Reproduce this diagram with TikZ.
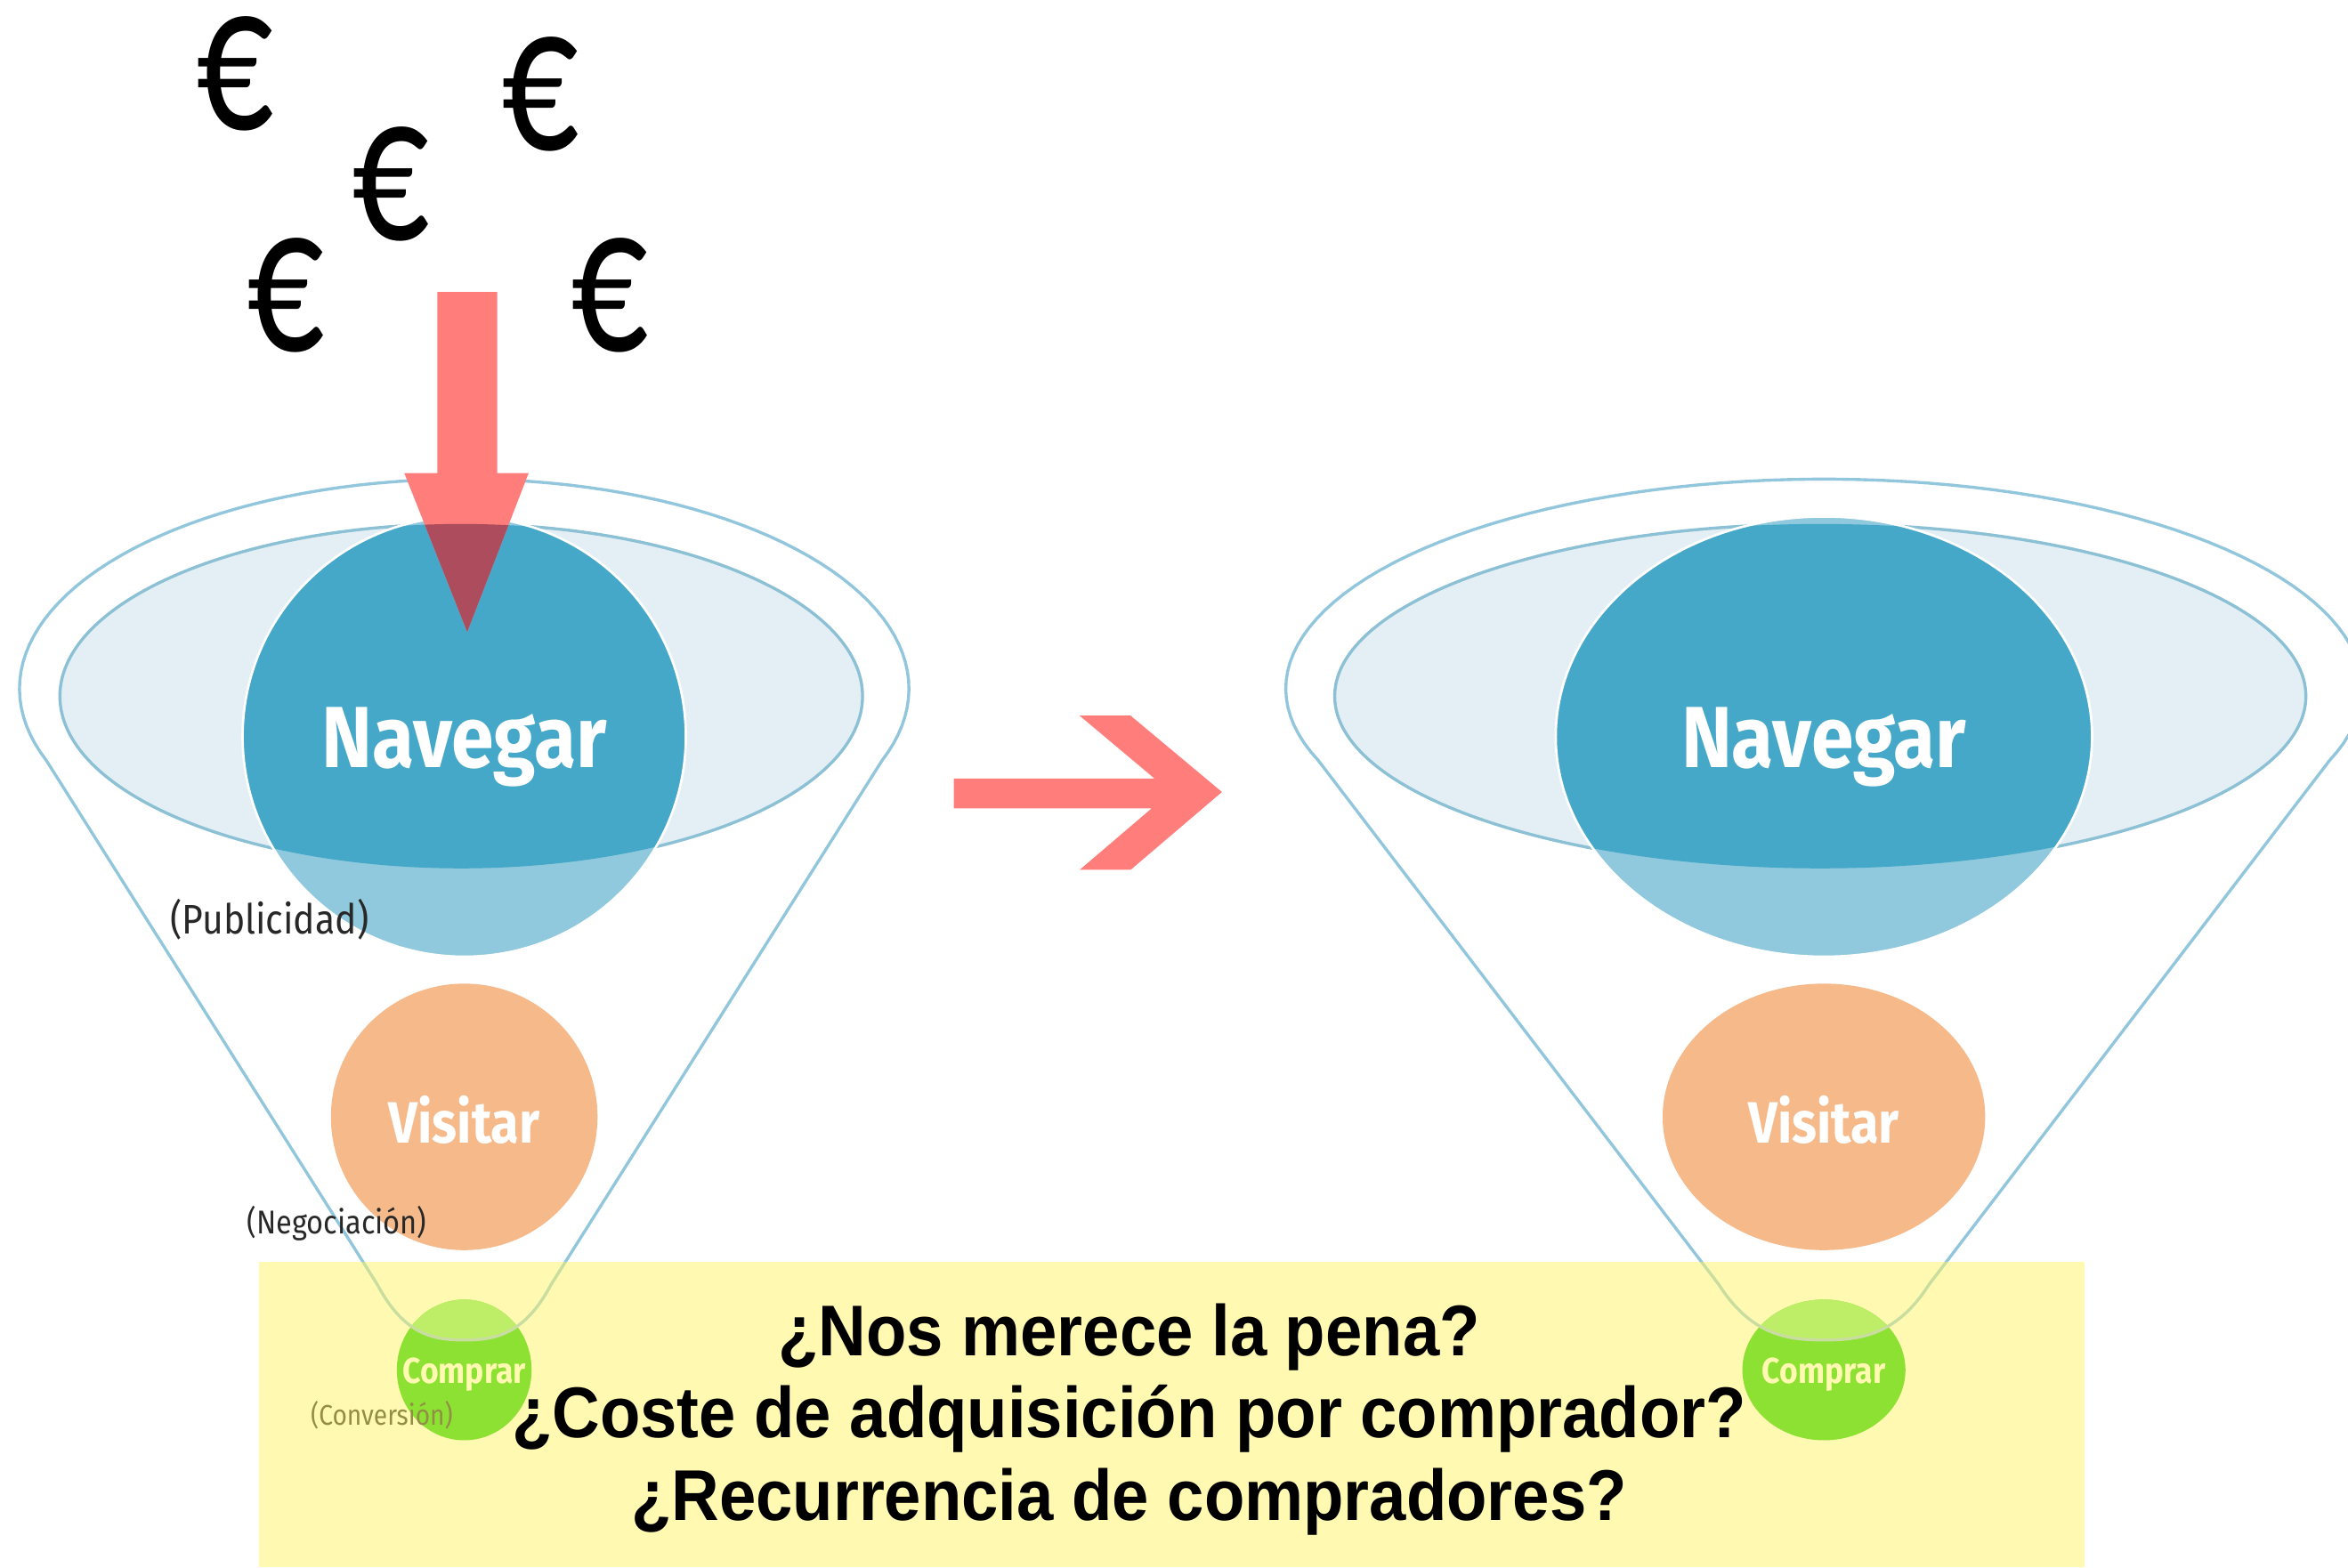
\documentclass[tikz,border=0pt]{standalone}
\usepackage{fontspec}
\setmainfont{Liberation Sans}
\newfontfamily\labfont[FakeStretch=0.88]{Fira Sans}
\newfontfamily\qfont[FakeStretch=0.92]{Liberation Sans}
\newfontfamily\eurofont[FakeStretch=0.72]{Carlito}
\definecolor{funline}{RGB}{145,198,220}
\definecolor{ellfill}{RGB}{227,239,245}
\definecolor{ellline}{RGB}{140,192,212}
\definecolor{navdark}{RGB}{70,168,200}
\definecolor{navlight}{RGB}{144,201,221}
\definecolor{visitcol}{RGB}{245,185,138}
\definecolor{greenA}{RGB}{25,205,0}
\definecolor{greenB}{RGB}{125,230,110}
\definecolor{salmon}{RGB}{255,125,122}
\definecolor{salmondark}{RGB}{172,76,92}
\definecolor{boxyel}{RGB}{255,245,100}
\definecolor{labgray}{RGB}{40,40,40}
\newcommand\funnelpath{(-58,858) -- plot[domain=160:380, samples=90] ({297*cos(\x)},{460+140*sin(\x)}) -- (58,858) .. controls (40,892) and (20,895) .. (0,895) .. controls (-20,895) and (-40,892) .. (-58,858) -- cycle}
\newcommand\funnelbody{%
  \fill[ellfill, draw=ellline, line width=1pt] (-2,465) ellipse [x radius=268, y radius=115];
  \fill[navlight] (0,492) ellipse [x radius=148, y radius=147];
  \begin{scope}
    \clip (-2,465) ellipse [x radius=268, y radius=115];
    \fill[navdark] (0,492) ellipse [x radius=148, y radius=147];
  \end{scope}
  \draw[white, line width=0.8pt] (0,492) ellipse [x radius=148, y radius=147];
  \fill[visitcol] (0,746) ellipse [x radius=89, y radius=89];
  \fill[greenA] (0,915) ellipse [x radius=45, y radius=47];
  \begin{scope}
    \clip \funnelpath;
    \fill[greenB] (0,915) ellipse [x radius=45, y radius=47];
  \end{scope}
  \draw[funline, line width=1pt] \funnelpath;
}
\tikzset{
  bigtxt/.style={inner sep=0pt, text=white, font=\labfont\bfseries\fontsize{29pt}{31pt}\selectfont},
  midtxt/.style={inner sep=0pt, text=white, font=\labfont\bfseries\fontsize{19.5pt}{21pt}\selectfont},
  smalltxt/.style={inner sep=0pt, text=white, font=\labfont\bfseries\fontsize{12pt}{13pt}\selectfont},
  lab/.style={inner sep=0pt, text=labgray, font=\labfont\fontsize{#1}{#1}\selectfont},
  euro/.style={inner sep=0pt, font=\eurofont\fontsize{71pt}{72pt}\selectfont},
  qtxt/.style={inner sep=0pt, align=center, font=\qfont\bfseries\fontsize{24pt}{27.5pt}\selectfont}
}
\begin{document}
\begin{tikzpicture}[x=0.5pt, y=-0.5pt]
\useasboundingbox (0,0) rectangle (1568,1047);
\fill[white] (0,0) rectangle (1568,1047);
% funnels
\begin{scope}[shift={(310,0)}]
  \funnelbody
\end{scope}
\begin{scope}[shift={(1218,0)}, xscale=1.21]
  \funnelbody
\end{scope}
% down arrow
\fill[salmon] (292,195) -- (332,195) -- (332,316) -- (353,316) -- (312,422) -- (270,316) -- (292,316) -- cycle;
\begin{scope}
  \clip (310,492) ellipse [x radius=148, y radius=147];
  \clip (308,465) ellipse [x radius=268, y radius=115];
  \fill[salmondark] (270,316) -- (353,316) -- (312,422) -- cycle;
\end{scope}
% right arrow
\fill[salmon] (637,520) -- (771,520) -- (721,478) -- (755,478) -- (816,529) -- (755,581) -- (721,581) -- (769,540) -- (637,540) -- cycle;
% texts in funnels
\node[bigtxt] (nav1) at (310,499) {Navegar};
\node[bigtxt] (nav2) at (1218,499) {Navegar};
\node[midtxt] (vis1) at (310,748) {Visitar};
\node[midtxt] (vis2) at (1218,748) {Visitar};
\node[smalltxt] (com1) at (310,918) {Comprar};
\node[smalltxt] (com2) at (1218,918) {Comprar};
\node[lab=13.8pt] (pub) at (180,614) {(Publicidad)};
\node[lab=11pt] (neg) at (225,817) {(Negociación)};
\node[lab=9.5pt] (conv) at (255,945) {(Conversión)};
% euros
\node[euro] (e1) at (157,49) {€};
\node[euro] (e2) at (361,63) {€};
\node[euro] (e3) at (261,123) {€};
\node[euro] (e4) at (191,197) {€};
\node[euro] (e5) at (407,197) {€};
% yellow box
\fill[boxyel, fill opacity=0.5] (173,843) rectangle (1392,1047);
\node[qtxt] (q) at (754,948) {¿Nos merece la pena?\\¿Coste de adquisición por comprador?\\¿Recurrencia de compradores?};
\end{tikzpicture}
\end{document}
